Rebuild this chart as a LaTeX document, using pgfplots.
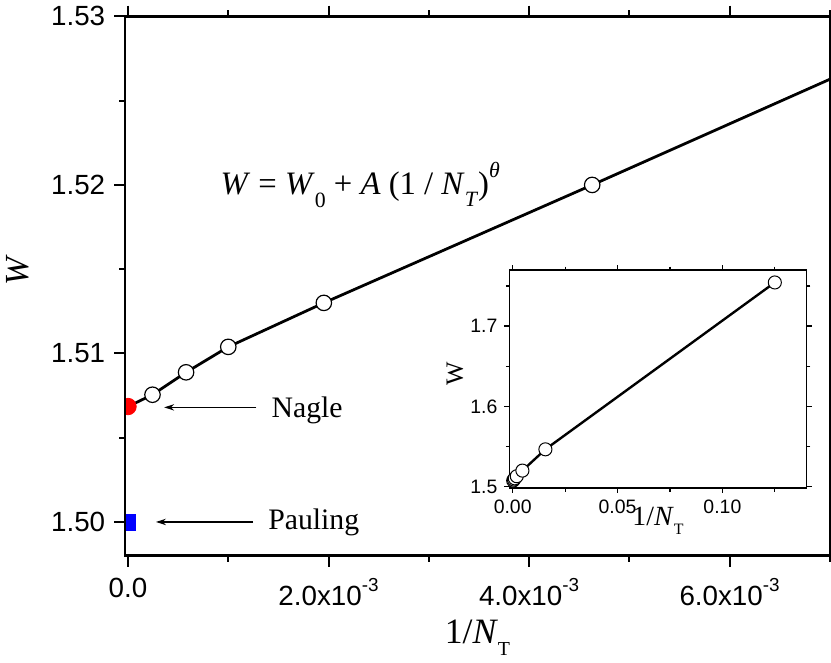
\documentclass[border=0pt]{standalone}
\usepackage{fontspec}
\setmainfont{Liberation Serif}
\setsansfont{Liberation Sans}
\usepackage{pgfplots}
\pgfplotsset{compat=1.18}
\usetikzlibrary{arrows.meta}

% x10^-3 for the tick labels
\newcommand{\ex}{x10\raisebox{7pt}{\fontsize{9.5}{9.5}\selectfont -3}}
\newcommand{\sub}[1]{\raisebox{-6pt}{\fontsize{10}{10}\selectfont #1}}

\begin{document}
\begin{tikzpicture}
\begin{axis}[
  scale only axis,
  width=355.5pt, height=272pt,
  xmin=-0.00003, xmax=0.007,
  ymin=1.498, ymax=1.53,
  axis on top,
  clip marker paths=true,
  axis line style={line width=1.2pt},
  every tick/.style={black, line width=1pt},
  tick align=outside,
  xtick pos=both, ytick pos=left,
  major tick length=5.5pt, minor tick length=3pt,
  scaled x ticks=false,
  xtick={0,0.002,0.004,0.006},
  xticklabels={0.0,2.0\ex,4.0\ex,6.0\ex},
  minor xtick={0.001,0.003,0.005,0.007},
  ytick={1.50,1.51,1.52,1.53},
  yticklabels={1.50,1.51,1.52,1.53},
  minor ytick={1.505,1.515,1.525},
  tick label style={font=\sffamily\fontsize{14}{14}\selectfont},
  xticklabel style={yshift=-2.5pt},
  yticklabel style={xshift=-1pt},
  xlabel={1/\textit{N}\sub{T}},
  xlabel style={at={(axis description cs:0.5,-0.163)}, anchor=base, font=\fontsize{18}{18}\selectfont},
  ylabel={\textit{W}},
  ylabel style={at={(axis description cs:-0.152,0.53)}, anchor=center, font=\fontsize{17}{17}\selectfont},
]
% fit W = W0 + A (1/N_T)^theta
\addplot[black, line width=1.4pt] coordinates {
  (0,1.50685) (0.000244,1.50755) (0.000579,1.50888) (0.001,1.51039)
  (0.001953,1.5130) (0.00463,1.5200) (0.007,1.52627)
};
\addplot[only marks, mark=*, mark size=3.9pt, mark options={fill=white, draw=black, line width=0.6pt}] coordinates {
  (0.000244,1.50755) (0.000579,1.50888) (0.001,1.51039) (0.001953,1.5130) (0.00463,1.5200)
};
% Nagle and Pauling
\addplot[only marks, mark=*, mark size=4.15pt, color=red] coordinates {(0,1.50685)};
\addplot[only marks, mark=square*, mark size=3.9pt, color=blue] coordinates {(0,1.49997)};

\draw[-{Stealth[length=5pt,width=3.2pt]}, line width=0.6pt] (axis cs:0.001281,1.5068) -- (axis cs:0.000361,1.5068);
\draw[-{Stealth[length=5pt,width=3.2pt]}, line width=0.6pt] (axis cs:0.001247,1.5000) -- (axis cs:0.000279,1.5000);
\node[anchor=base west, inner sep=0pt, font=\fontsize{15}{15}\selectfont] at (axis cs:0.001429,1.50619) {Nagle};
\node[anchor=base west, inner sep=0pt, font=\fontsize{15}{15}\selectfont] at (axis cs:0.001395,1.49958) {Pauling};
\node[anchor=base west, inner sep=0pt, font=\fontsize{16.5}{16.5}\selectfont] at (axis cs:0.000919,1.51941)
  {\textit{W} = \textit{W}\raisebox{-6.5pt}{\fontsize{11}{11}\selectfont 0} + \textit{A} (1 / \textit{N}\raisebox{-6pt}{\fontsize{11}{11}\selectfont\textit{T}})\raisebox{9pt}{\fontsize{11}{11}\selectfont\textit{θ}}};
\end{axis}

% inset
\begin{axis}[
  at={(193.85pt,34.15pt)}, anchor=south west,
  scale only axis,
  width=150pt, height=109.85pt,
  xmin=-0.0016, xmax=0.1402,
  ymin=1.4984, ymax=1.7696,
  axis background/.style={fill=white},
  axis line style={line width=0.7pt},
  every tick/.style={black, line width=0.6pt},
  tick align=outside, tick pos=both,
  major tick length=2.5pt, minor tick length=1.8pt,
  xtick={0,0.05,0.1},
  xticklabels={0.00,0.05,0.10},
  minor xtick={0.025,0.075,0.125},
  ytick={1.5,1.6,1.7},
  yticklabels={1.5,1.6,1.7},
  minor ytick={1.55,1.65,1.75},
  tick label style={font=\sffamily\fontsize{9.8}{9.8}\selectfont},
  xlabel={1/\textit{N}\raisebox{-4.5pt}{\fontsize{8}{8}\selectfont T}},
  xlabel style={at={(axis description cs:0.5,-0.172)}, anchor=base, font=\fontsize{14}{14}\selectfont},
  ylabel={W},
  ylabel style={at={(axis description cs:-0.183,0.523)}, anchor=center, font=\fontsize{12.5}{12.5}\selectfont},
]
\addplot[black, line width=1.2pt] coordinates {
  (0,1.50685) (0.000244,1.50755) (0.000579,1.50888) (0.001,1.51039)
  (0.001953,1.5130) (0.00463,1.5200) (0.0156,1.5465) (0.125,1.7543)
};
\addplot[only marks, mark=*, mark size=3.3pt, mark options={fill=white, draw=black, line width=0.5pt}] coordinates {
  (0.000244,1.50755) (0.000579,1.50888) (0.001,1.51039) (0.001953,1.5130)
  (0.00463,1.5200) (0.0156,1.5465) (0.125,1.7543)
};
\end{axis}
\end{tikzpicture}
\end{document}
